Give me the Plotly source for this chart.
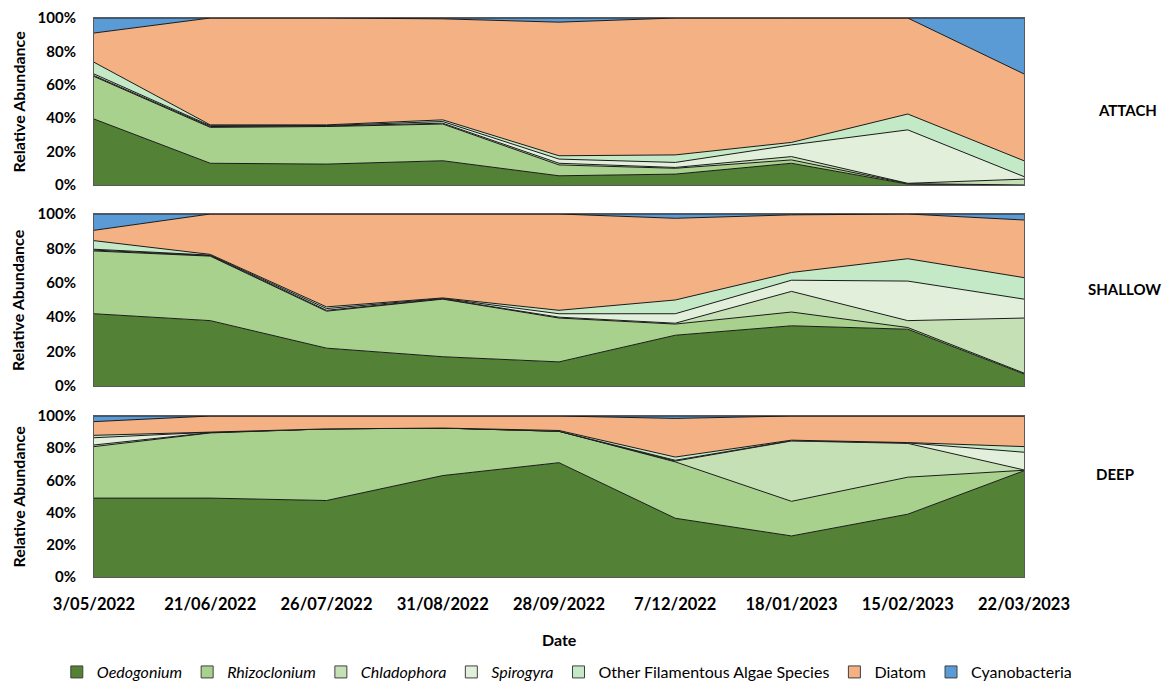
import plotly.graph_objects as go
from plotly.subplots import make_subplots

dates = ["3/05/2022", "21/06/2022", "26/07/2022", "31/08/2022", "28/09/2022",
         "7/12/2022", "18/01/2023", "15/02/2023", "22/03/2023"]

species = ["Oedogonium", "Rhizoclonium", "Chladophora", "Spirogyra",
           "Other Filamentous Algae Species", "Diatom", "Cyanobacteria"]
italic = [True, True, True, True, False, False, False]
colors = ["#538135", "#A9D18E", "#C5E0B4", "#E2EFDA", "#C3E9C6", "#F4B183", "#5B9BD5"]

sites = ["ATTACH", "SHALLOW", "DEEP"]

# relative abundance (%) per species, one list per site
attach_oedogonium = [39.5, 13, 12.5, 14.5, 5.5, 6.5, 13, 0.5, 0]
attach_rhizoclonium = [25.5, 21.5, 22.5, 22, 6.5, 3.5, 2, 0.3, 0]
attach_chladophora = [0.5, 0.5, 0.3, 0.5, 1, 0.5, 2, 0.2, 3.5]
attach_spirogyra = [1, 0.5, 0.3, 1, 2.5, 3, 7, 32, 1.5]
attach_other = [7, 0.5, 0.4, 1, 2, 4.5, 1.5, 9.5, 9.5]
attach_diatom = [17.5, 64, 64, 60.5, 80, 82, 74.5, 57.5, 52]
attach_cyano = [9, 0, 0, 0.5, 2.5, 0, 0, 0, 33.5]

shallow_oedogonium = [42, 38, 22, 17, 14, 29.5, 35, 33, 7]
shallow_rhizoclonium = [36.5, 37.5, 21.5, 33.5, 25.5, 6.5, 8, 1, 0.5]
shallow_chladophora = [0.5, 0.3, 0.5, 0.2, 0.5, 0.5, 12, 4, 32]
shallow_spirogyra = [0.5, 0.3, 1, 0.2, 2, 5.5, 6.5, 23, 11]
shallow_other = [5, 0.4, 1, 0.3, 2, 8, 4.5, 13, 12.5]
shallow_diatom = [6, 23.5, 54, 48.8, 56, 47.5, 33.5, 26, 33.5]
shallow_cyano = [9.5, 0, 0, 0, 0, 2.5, 0.5, 0, 3.5]

deep_oedogonium = [49, 49, 47.5, 63, 71, 36.5, 25.5, 39, 66]
deep_rhizoclonium = [32, 40.5, 44.5, 29.5, 19.5, 35, 21.5, 23, 0.3]
deep_chladophora = [1, 0.2, 0, 0, 0, 0.5, 37.5, 21, 0.2]
deep_spirogyra = [4.5, 0.2, 0, 0, 0, 0.5, 0.2, 0.3, 11]
deep_other = [1.5, 0.3, 0, 0, 0.5, 2, 0.3, 0.2, 3.5]
deep_diatom = [8.5, 9.8, 8, 7.5, 9, 24, 15, 16.5, 19]
deep_cyano = [3.5, 0, 0, 0, 0, 1.5, 0, 0, 0]

site_data = [
    [attach_oedogonium, attach_rhizoclonium, attach_chladophora, attach_spirogyra,
     attach_other, attach_diatom, attach_cyano],
    [shallow_oedogonium, shallow_rhizoclonium, shallow_chladophora, shallow_spirogyra,
     shallow_other, shallow_diatom, shallow_cyano],
    [deep_oedogonium, deep_rhizoclonium, deep_chladophora, deep_spirogyra,
     deep_other, deep_diatom, deep_cyano],
]

FONT = "Lato, 'Open Sans', sans-serif"
BLACK = "#000000"

fig = make_subplots(rows=3, cols=1, shared_xaxes=True)

for r, series in enumerate(site_data, start=1):
    for k, (name, vals) in enumerate(zip(species, series)):
        fig.add_trace(go.Scatter(
            x=dates, y=vals, name=name, mode="lines",
            stackgroup=f"s{r}", groupnorm="percent",
            line=dict(color="#1a1a1a", width=1),
            fillcolor=colors[k], showlegend=False,
        ), row=r, col=1)

# square legend keys (empty bar traces carry only the legend entries)
for k, name in enumerate(species):
    label = f"<i>{name}</i>" if italic[k] else name
    fig.add_trace(go.Bar(
        x=[None], y=[None], name=label,
        marker=dict(color=colors[k], line=dict(color="#404040", width=1)),
        showlegend=True,
    ), row=1, col=1)

# panel placement
domains = [[0.7013, 1.0], [0.3417, 0.6494], [0.0, 0.288]]
for r in range(1, 4):
    yk = "yaxis" if r == 1 else f"yaxis{r}"
    xk = "xaxis" if r == 1 else f"xaxis{r}"
    fig.layout[yk].update(
        domain=domains[r - 1], range=[0, 100], automargin=False,
        tickvals=[0, 20, 40, 60, 80, 100],
        ticktext=["0%", "20%", "40%", "60%", "80%", "100%"],
        tickfont=dict(family=FONT, size=15, color=BLACK, weight="bold"),
        ticklabelstandoff=14,
        showgrid=False, zeroline=False,
        showline=True, mirror=True, linecolor="#595959", linewidth=1,
        ticks="",
    )
    fig.layout[xk].update(
        type="category", range=[0, 8], automargin=False,
        showgrid=False, zeroline=False,
        showline=True, mirror=True, linecolor="#595959", linewidth=1,
        ticks="", showticklabels=(r == 3), ticklabelstandoff=12,
        tickfont=dict(family=FONT, size=16.5, color=BLACK, weight="bold"),
    )
    # y axis title for each panel
    fig.add_annotation(
        text="<b>Relative Abundance</b>", textangle=-90,
        xref="paper", yref="paper", x=-0.0817,
        y=(domains[r - 1][0] + domains[r - 1][1]) / 2,
        showarrow=False, xanchor="center", yanchor="middle",
        font=dict(family=FONT, size=16, color=BLACK),
    )

fig.add_annotation(text="<b>Date</b>", xref="paper", yref="paper",
                   x=0.5, y=-0.1127, showarrow=False, yanchor="middle",
                   font=dict(family=FONT, size=16, color=BLACK))

# site labels on the right
for site, xx, yy in zip(sites, [1.111, 1.108, 1.098], [0.835, 0.515, 0.184]):
    fig.add_annotation(text=f"<b>{site}</b>", xref="paper", yref="paper",
                       x=xx, y=yy, showarrow=False, xanchor="center",
                       yanchor="middle",
                       font=dict(family=FONT, size=15, color=BLACK))

fig.update_layout(
    width=1171, height=682,
    margin=dict(l=94, r=147, t=18, b=105, autoexpand=False),
    plot_bgcolor="#ffffff", paper_bgcolor="#ffffff",
    legend=dict(orientation="h", xref="paper", yref="paper",
                x=-0.04, xanchor="left", y=-0.17, yanchor="middle",
                font=dict(family=FONT, size=16, color=BLACK),
                itemwidth=30, traceorder="normal"),
)

fig.write_html("out.html")
